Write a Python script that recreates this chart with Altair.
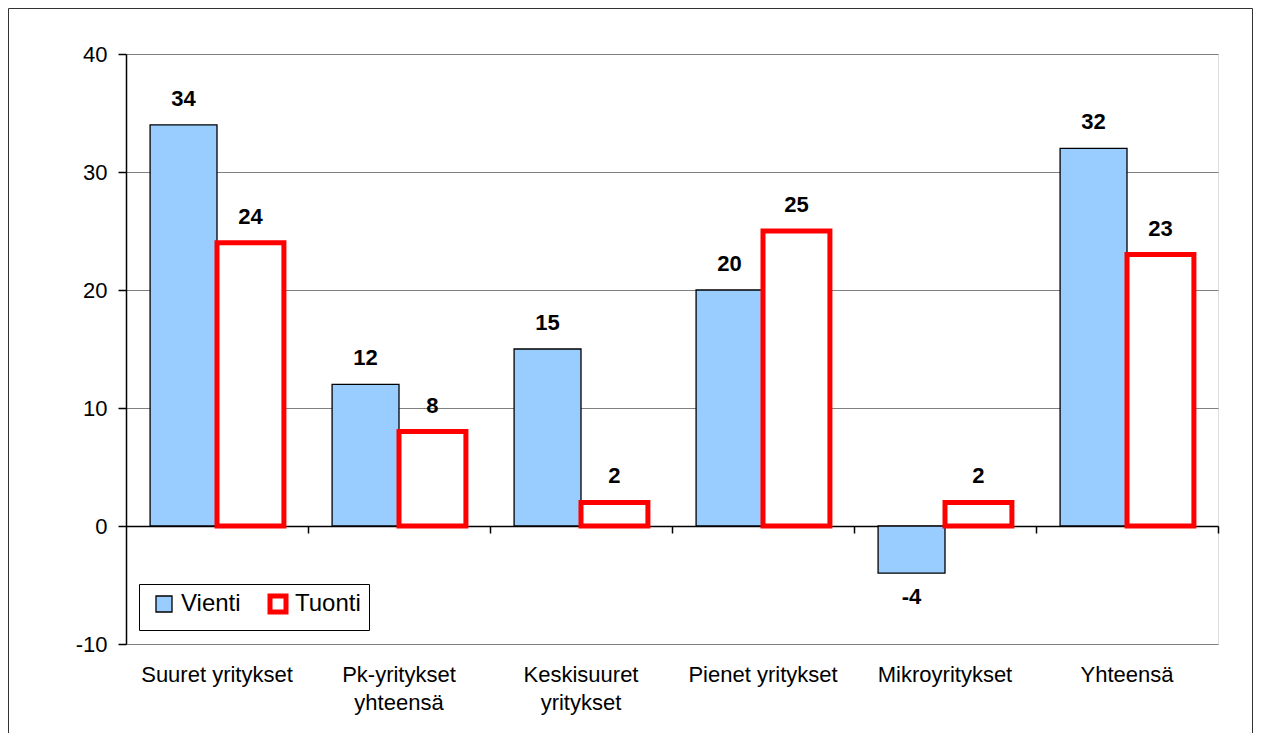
import altair as alt
import pandas as pd

categories = ["Suuret yritykset", "Pk-yritykset\nyhteensä", "Keskisuuret\nyritykset",
              "Pienet yritykset", "Mikroyritykset", "Yhteensä"]
series_names = ["Vienti", "Tuonti"]
vienti = [34, 12, 15, 20, -4, 32]
tuonti = [24, 8, 2, 25, 2, 23]
y_ticks = [-10, 0, 10, 20, 30, 40]

rows = []
for c, v, t in zip(categories, vienti, tuonti):
    rows.append({"cat": c, "series": "Vienti", "value": v})
    rows.append({"cat": c, "series": "Tuonti", "value": t})
df = pd.DataFrame(rows)

W, H = 1092, 590
FONT = "Liberation Sans"

x_scale = alt.Scale(domain=categories, paddingInner=0, paddingOuter=0)
xoff = alt.XOffset("series:N", sort=series_names,
                   scale=alt.Scale(domain=series_names, paddingInner=0, paddingOuter=0.36))
y_scale = alt.Scale(domain=[-10, 40], nice=False, zero=False)


def y_axis():
    return alt.Axis(values=y_ticks, grid=True, gridColor="#808080", gridWidth=1,
                    domain=True, domainColor="#000000", domainWidth=1.5,
                    ticks=True, tickColor="#000000", tickSize=8, tickWidth=1.5,
                    labelFont=FONT, labelFontSize=22, labelColor="#000000",
                    labelPadding=11, labelExpr="datum.value + ''", title=None)


def legend():
    return alt.Legend(
        title=None, orient="none", legendX=13, legendY=530,
        direction="horizontal", fillColor="#FFFFFF", strokeColor="#000000",
        padding=8, symbolType="square", symbolSize=256, symbolOffset=5,
        labelFont=FONT, labelFontSize=24, labelColor="#000000",
        labelOffset=5, columnPadding=19, gridAlign="none")


frame = alt.Chart(pd.DataFrame({"f": [0]})).mark_rect(
    fillOpacity=0, stroke="#333333", strokeWidth=1
).encode(
    x=alt.value(-117.5), x2=alt.value(W + 34.5),
    y=alt.value(-45.5), y2=alt.value(H + 200)
)

bars = alt.Chart(df).mark_bar().encode(
    x=alt.X("cat:N", sort=categories, scale=x_scale, title=None,
            axis=alt.Axis(orient="bottom", domain=False, ticks=False, grid=False,
                          labelAngle=0, labelFont=FONT, labelFontSize=22,
                          labelColor="#000000", labelPadding=20, labelLineHeight=28,
                          labelLimit=400, labelExpr="split(datum.label, '\\n')")),
    xOffset=xoff,
    y=alt.Y("value:Q", scale=y_scale, title=None, axis=y_axis()),
    fill=alt.Fill("series:O", sort=series_names,
                  scale=alt.Scale(domain=series_names, range=["#99CCFF", "#FFFFFF"]),
                  legend=legend()),
    stroke=alt.Stroke("series:O", sort=series_names,
                      scale=alt.Scale(domain=series_names, range=["#000000", "#FF0000"]),
                      legend=legend()),
    strokeWidth=alt.StrokeWidth("series:O", sort=series_names,
                                scale=alt.Scale(domain=series_names, range=[1.3, 5]),
                                legend=legend()),
)

zero_axis = alt.Chart(df).mark_point(opacity=0).encode(
    x=alt.X("cat:N", sort=categories, scale=x_scale, title=None,
            axis=alt.Axis(orient="bottom", offset=-(H * 10 / 50), labels=False,
                          domain=True, domainColor="#000000", domainWidth=1.5,
                          ticks=True, tickColor="#000000", tickSize=7, tickWidth=1.5,
                          bandPosition=1, grid=False)),
    y=alt.Y("value:Q", scale=y_scale, title=None, axis=y_axis()),
)

label_common = dict(font=FONT, fontSize=22, fontWeight="bold", color="#000000",
                    align="center", baseline="alphabetic")

pos_labels = alt.Chart(df).transform_filter(alt.datum.value >= 0).mark_text(
    dy=-19, **label_common
).encode(
    x=alt.X("cat:N", sort=categories, scale=x_scale, axis=None),
    xOffset=xoff,
    y=alt.Y("value:Q", scale=y_scale, title=None, axis=y_axis()),
    text=alt.Text("value:N"),
)

neg_labels = alt.Chart(df).transform_filter(alt.datum.value < 0).mark_text(
    dy=31, **label_common
).encode(
    x=alt.X("cat:N", sort=categories, scale=x_scale, axis=None),
    xOffset=xoff,
    y=alt.Y("value:Q", scale=y_scale, title=None, axis=y_axis()),
    text=alt.Text("value:N"),
)

chart = alt.layer(frame, bars, zero_axis, pos_labels, neg_labels).resolve_axis(
    x="independent"
).properties(
    width=W, height=H,
    padding={"left": 118, "top": 46, "right": 35, "bottom": 89},
    autosize=alt.AutoSizeParams(type="none"),
).configure_view(
    stroke="#808080", strokeWidth=1.5
).configure(
    background="#FFFFFF", font=FONT,
    style={"guide-label": {"fontSize": 24, "font": FONT}},
)

chart.save("out.html", embed_options={"renderer": "svg", "actions": False})
